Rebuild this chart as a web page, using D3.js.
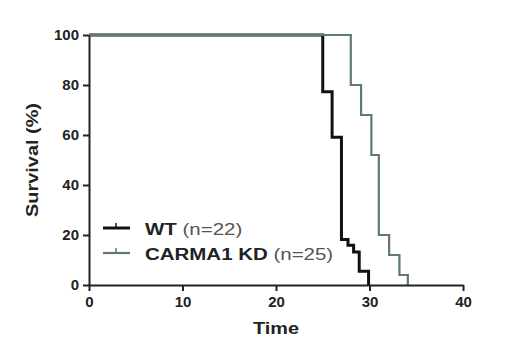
<!DOCTYPE html>
<html>
<head>
<meta charset="utf-8">
<script src="https://cdn.jsdelivr.net/npm/d3@7"></script>
<style>
  body { margin: 0; background: #fff; }
  text { font-family: "Liberation Sans", Arial, sans-serif; }
</style>
</head>
<body>
<svg id="chart" width="520" height="362"></svg>
<script>
// survival curves (time, % surviving after the step)
const wtTimes = [0, 25, 26, 27, 27.7, 28.3, 28.9, 29.9];
const wtSurv = [100, 77.3, 59.1, 18.2, 15.9, 13.2, 5.5, 0];
const kdTimes = [0, 28, 29.1, 30.2, 31, 32.1, 33.2, 34.1];
const kdSurv = [100, 80, 68, 52, 20, 12, 4, 0];

const xTicks = [0, 10, 20, 30, 40];
const yTicks = [0, 20, 40, 60, 80, 100];

const legendItems = [
  {name: 'WT', n: '(n=22)', color: '#111'},
  {name: 'CARMA1 KD', n: '(n=25)', color: '#5e7d69'}
];

const svg = d3.select('#chart');
const plotL = 89, plotR = 463, plotT = 35, plotB = 285;

const x = d3.scaleLinear().domain([0, 40]).range([plotL, plotR]);
const y = d3.scaleLinear().domain([0, 100]).range([plotB, plotT]);

const stepLine = d3.line().curve(d3.curveStepAfter)
  .x(d => x(d[0])).y(d => y(d[1]));

function series(times, surv) {
  return times.map((t, i) => [t, surv[i]]);
}

// WT first, KD drawn over it (the shared 100% line looks green)
svg.append('path').attr('d', stepLine(series(wtTimes, wtSurv)))
  .attr('fill', 'none').attr('stroke', legendItems[0].color).attr('stroke-width', 3);
svg.append('path').attr('d', stepLine(series(kdTimes, kdSurv)))
  .attr('fill', 'none').attr('stroke', legendItems[1].color).attr('stroke-width', 2.2);

// axes
const xAxis = svg.append('g').attr('transform', `translate(0,${plotB})`)
  .call(d3.axisBottom(x).tickValues(xTicks).tickSize(6).tickSizeOuter(0).tickPadding(5));
const yAxis = svg.append('g').attr('transform', `translate(${plotL},0)`)
  .call(d3.axisLeft(y).tickValues(yTicks).tickSize(6).tickSizeOuter(0).tickPadding(4));

[xAxis, yAxis].forEach(a => {
  a.select('.domain').attr('stroke', '#222').attr('stroke-width', 2);
  a.selectAll('.tick line').attr('stroke', '#222').attr('stroke-width', 2);
  a.selectAll('.tick text').attr('fill', '#222').attr('font-size', 15)
    .attr('font-weight', 'bold').attr('font-family', '"Liberation Sans", Arial, sans-serif');
});

// axis titles
svg.append('text').attr('x', 276).attr('y', 334).attr('text-anchor', 'middle')
  .attr('font-size', 17).attr('font-weight', 'bold').attr('fill', '#222')
  .attr('textLength', 46).attr('lengthAdjust', 'spacingAndGlyphs').text('Time');
svg.append('text').attr('transform', 'translate(38,160) rotate(-90)')
  .attr('text-anchor', 'middle').attr('font-size', 17).attr('font-weight', 'bold')
  .attr('fill', '#222').attr('textLength', 114).attr('lengthAdjust', 'spacingAndGlyphs')
  .text('Survival (%)');

// legend
const leg = svg.append('g');
legendItems.forEach((d, i) => {
  const ly = 228 + i * 25;
  leg.append('line').attr('x1', 103).attr('x2', 130).attr('y1', ly).attr('y2', ly)
    .attr('stroke', d.color).attr('stroke-width', i === 0 ? 3 : 2.2);
  leg.append('line').attr('x1', 116).attr('x2', 116).attr('y1', ly - 5).attr('y2', ly)
    .attr('stroke', d.color).attr('stroke-width', 1.5);
  const t = leg.append('text').attr('transform', `translate(145,${ly + 7}) scale(1.28,1)`)
    .attr('font-size', 16).attr('fill', '#222');
  t.append('tspan').attr('font-weight', 'bold').text(d.name + ' ');
  t.append('tspan').attr('fill', '#555').text(d.n);
});
</script>
</body>
</html>
